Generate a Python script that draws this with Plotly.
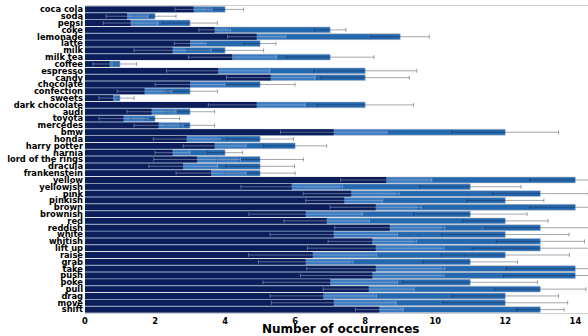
import plotly.graph_objects as go

categories = ["coca cola", "soda", "pepsi", "coke", "lemonade", "latte", "milk", "milk tea",
              "coffee", "espresso", "candy", "chocolate", "confection", "sweets", "dark chocolate",
              "audi", "toyota", "mercedes", "bmw", "honda", "harry potter", "narnia",
              "lord of the rings", "dracula", "frankenstein", "yellow", "yellowish", "pink",
              "pinkish", "brown", "brownish", "red", "reddish", "white", "whitish", "lift up",
              "raise", "grab", "take", "push", "poke", "pull", "drag", "move", "shift"]

total_vals = [4, 2, 3, 7, 9, 5, 4, 7, 1, 8, 8, 5, 3, 1, 8, 3, 2, 3, 12, 5, 6, 4, 5, 5, 5,
              14, 11, 13, 12, 14, 11, 12, 13, 12, 13, 13, 12, 11, 14, 14, 11, 13, 12, 12, 13]

mid_vals = [3.6, 1.8, 2.1, 4.1, 5.7, 3.4, 2.9, 5.5, 0.8, 5.3, 6.6, 4.0, 2.3, 0.9, 6.3,
            2.6, 1.7, 2.7, 8.6, 3.8, 4.6, 3.0, 4.4, 3.8, 4.6, 9.9, 7.3, 8.9, 8.5, 9.5,
            7.9, 8.1, 10.2, 8.9, 9.4, 10.2, 8.3, 7.6, 10.2, 10.2, 8.9, 9.4, 8.3, 8.9, 9.1]

low_vals = [3.1, 1.2, 1.3, 3.7, 4.9, 3.0, 2.5, 4.2, 0.7, 3.8, 5.3, 3.0, 1.7, 0.8, 4.9,
            1.9, 1.1, 2.1, 7.1, 2.9, 3.7, 2.5, 3.2, 2.8, 3.6, 8.6, 5.9, 7.6, 7.4, 8.3,
            6.3, 6.9, 8.7, 7.1, 8.2, 8.3, 6.5, 6.3, 8.3, 8.2, 7.0, 8.1, 6.8, 7.1, 8.4]

err_vals = [0.53, 0.6, 0.78, 0.45, 0.83, 0.45, 1.1, 1.25, 0.47, 1.47, 1.26, 1.0, 0.78, 0.4,
            1.38, 0.7, 0.7, 0.7, 1.52, 0.95, 0.9, 0.5, 1.24, 0.98, 1.0, 1.3, 1.45, 1.37, 1.1,
            1.3, 1.62, 1.22, 1.57, 1.82, 1.26, 1.95, 1.83, 1.35, 1.97, 2.05, 1.92, 1.3, 1.52,
            1.78, 0.68]

x_ticks = [0, 2, 4, 6, 8, 10, 12, 14]

BAR_W = 0.86

fig = go.Figure()
fig.add_trace(go.Bar(
    y=categories, x=total_vals, orientation="h", width=BAR_W,
    marker=dict(color="#2468b0", line=dict(color="rgba(190,190,195,0.9)", width=0.6)),
    error_x=dict(type="data", array=err_vals, color="rgba(30,35,55,0.4)", thickness=1, width=2),
    showlegend=False))
fig.add_trace(go.Bar(
    y=categories, x=mid_vals, orientation="h", width=BAR_W,
    marker=dict(color="rgba(110,165,230,0.28)", line=dict(width=0)),
    showlegend=False))
fig.add_trace(go.Bar(
    y=categories, x=low_vals, orientation="h", width=BAR_W,
    marker=dict(color="#0c1e5a", line=dict(width=0)),
    error_x=dict(type="data", array=err_vals, color="rgba(200,210,230,0.4)", thickness=1, width=2),
    showlegend=False))

font_b = dict(family="DejaVu Sans", size=8.3, color="black", weight="bold")

fig.update_layout(
    width=588, height=336,
    margin=dict(l=85, r=0, t=6, b=23),
    barmode="overlay",
    plot_bgcolor="white", paper_bgcolor="white",
    xaxis=dict(range=[0, 14.36], tickmode="array", tickvals=x_ticks,
               ticktext=[str(v) for v in x_ticks], automargin=False,
               showgrid=False, zeroline=False, showline=True, mirror=True,
               linecolor="#cfcfcf", linewidth=1, ticks="", tickfont=font_b,
               ticklabelstandoff=0),
    yaxis=dict(categoryorder="array", categoryarray=categories, autorange="reversed",
               tickmode="array", tickvals=categories, ticktext=categories,
               automargin=False,
               showgrid=False, zeroline=False, showline=False, ticks="",
               tickfont=font_b, ticklabelstandoff=1),
    annotations=[dict(text="Number of occurrences", x=0.507, y=-0.052, xref="paper",
                      yref="paper", xanchor="center", yanchor="middle", showarrow=False,
                      font=dict(family="DejaVu Sans", size=12, color="black", weight="bold"))],
)

fig.write_html("out.html", config={"displayModeBar": False},
               post_script="document.body.style.margin='0';")
